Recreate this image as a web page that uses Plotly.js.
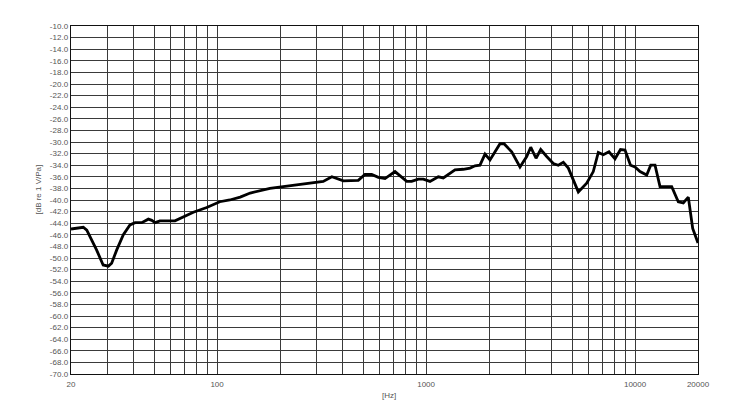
<!DOCTYPE html>
<html>
<head>
<meta charset="utf-8">
<script src="https://cdn.plot.ly/plotly-3.0.1.min.js"></script>
<style>html,body{margin:0;padding:0;background:#fff;}#chart{width:741px;height:407px;}</style>
</head>
<body>
<div id="chart"></div>
<script>
const freqHz = [20, 22.9, 23.8, 25.6, 26.5, 28.5, 30.2, 31.3, 33.1, 35.6, 38.3, 40.5, 43.6, 46.9, 48.7, 50.5, 53.3, 62.9, 66.5, 77, 89.2, 103, 115, 129, 144, 179, 240, 300, 322, 354, 402, 474, 510, 549, 591, 636, 710, 808, 853, 918, 970, 1044, 1144, 1209, 1302, 1375, 1507, 1623, 1714, 1811, 1914, 2022, 2258, 2360, 2568, 2814, 3030, 3167, 3358, 3536, 3777, 4062, 4292, 4536, 4793, 5351, 5868, 6310, 6668, 7046, 7502, 8016, 8516, 8948, 9508, 9990, 10556, 11366, 11878, 12456, 13160, 14972, 16098, 17012, 17974, 18864, 20000];
const levelDb = [-45.0, -44.7, -45.2, -47.5, -48.6, -51.2, -51.4, -50.9, -48.6, -46.0, -44.3, -43.9, -43.9, -43.3, -43.5, -43.9, -43.6, -43.6, -43.2, -42.1, -41.3, -40.3, -40.0, -39.5, -38.8, -38.0, -37.4, -37.0, -36.8, -36.0, -36.7, -36.6, -35.6, -35.6, -36.1, -36.3, -35.1, -36.8, -36.8, -36.4, -36.4, -36.8, -36.0, -36.2, -35.4, -34.8, -34.7, -34.5, -34.1, -34.0, -32.1, -33.1, -30.3, -30.3, -31.7, -34.3, -32.5, -30.9, -32.8, -31.3, -32.5, -33.7, -34.0, -33.5, -34.5, -38.6, -37.1, -35.1, -31.8, -32.2, -31.7, -32.9, -31.3, -31.4, -34.0, -34.3, -35.1, -35.7, -34.0, -34.0, -37.7, -37.7, -40.3, -40.5, -39.5, -44.9, -47.4];

const xGrid = [20, 30, 40, 50, 60, 70, 80, 90, 100, 200, 300, 400, 500, 600, 700, 800, 900, 1000, 2000, 3000, 4000, 5000, 6000, 7000, 8000, 9000, 10000, 20000];
const xLabeled = [20, 100, 1000, 10000, 20000];
const yGrid = [];
for (let v = -70; v <= -10; v += 2) yGrid.push(v);

const xTitle = '[Hz]';
const yTitle = '[dB re 1 V/Pa]';

const xText = xGrid.map(v => xLabeled.includes(v) ? String(v) : "");
const yText = yGrid.map(v => v.toFixed(1));

const trace = {
  x: freqHz, y: levelDb, type: 'scatter', mode: 'lines',
  line: {color: '#000', width: 2.8, shape: 'linear'},
  hoverinfo: 'skip'
};

const labelColor = '#555';

const layout = {
  width: 741, height: 407,
  margin: {l: 71, r: 43, t: 26, b: 33, pad: 0},
  paper_bgcolor: '#fff', plot_bgcolor: '#fff',
  showlegend: false,
  font: {family: 'Liberation Sans, Arial, sans-serif', size: 8, color: labelColor},
  xaxis: {
    type: 'log', range: [Math.log10(20), Math.log10(20000)],
    tickmode: 'array', tickvals: xGrid, ticktext: xText,
    showgrid: true, gridcolor: '#3a3a3a', gridwidth: 1,
    showline: true, linecolor: '#111', linewidth: 1.3, mirror: true,
    ticks: '', zeroline: false,
    tickfont: {size: 8, color: labelColor},
    ticklabelstandoff: 2
  },
  yaxis: {
    range: [-70, -10],
    tickmode: 'array', tickvals: yGrid, ticktext: yText,
    showgrid: true, gridcolor: '#3a3a3a', gridwidth: 1,
    showline: true, linecolor: '#111', linewidth: 1.3, mirror: true,
    ticks: '', zeroline: false,
    tickfont: {size: 8, color: labelColor}
  },
  annotations: [
    {text: xTitle, xref: 'paper', yref: 'paper', x: 0.507, y: -0.062, xanchor: 'center', yanchor: 'middle',
     showarrow: false, font: {size: 8, color: labelColor}},
    {text: yTitle, xref: 'paper', yref: 'paper', x: -0.0511, y: 0.53, xanchor: 'center', yanchor: 'middle',
     textangle: -90, showarrow: false, font: {size: 8, color: labelColor}}
  ]
};

Plotly.newPlot('chart', [trace], layout, {staticPlot: true, displayModeBar: false});
</script>
</body>
</html>
